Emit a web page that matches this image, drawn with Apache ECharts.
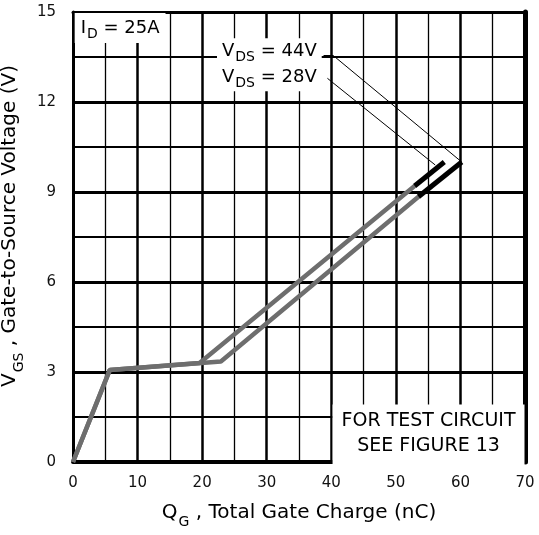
<!DOCTYPE html>
<html><head><meta charset="utf-8">
<script src="https://cdn.jsdelivr.net/npm/echarts@6/dist/echarts.min.js"></script>
<style>html,body{margin:0;padding:0;background:#fff}#c{width:539px;height:535px}</style>
</head><body><div id="c"></div>
<script>
// ---- data ----
const xTicks = [0, 10, 20, 30, 40, 50, 60, 70];
const yTicks = [0, 3, 6, 9, 12, 15];
// Gate charge curves (grey lower section, black upper section as printed)
const curveVds28Lower = [[0, 0], [5.7, 3.07], [19.6, 3.3], [52.9, 9.2]];
const curveVds28Upper = [[52.9, 9.2], [57.5, 10.0]];
const curveVds44Lower = [[0, 0], [5.7, 3.07], [22.9, 3.35], [53.5, 8.84]];
const curveVds44Upper = [[53.5, 8.84], [60.2, 10.0]];
const leaderVds44 = [[38.8, 13.55], [40.3, 13.55], [60.2, 10.0]];
const leaderVds28 = [[39.4, 12.79], [56.1, 9.9]];
const annotationAnchors = [[0.26, 14.47], [22.3, 13.24], [55.06, 0.92]];
const annotationTexts = [
  '{m|I}{s|D}{m| = 25A}',
  '{m|V}{s|DS}{m| = 44V}\n{m|V}{s|DS}{m| = 28V}',
  '{b|FOR TEST CIRCUIT}\n{b|SEE FIGURE 13}'
];
const xTitle = '{m|Q}{s|G}{m| , Total Gate Charge (nC)}';
const yTitle = '{m|V}{s|GS}{m| , Gate-to-Source Voltage (V)}';

// ---- chart ----
const F = 'DejaVu Sans';
const INK = '#000';
const GREY = '#6e6e6e';
const chart = echarts.init(document.getElementById('c'), null, {renderer: 'canvas'});
const nameRich = {
  m: {fontFamily: F, fontSize: 20, color: INK},
  s: {fontFamily: F, fontSize: 14, color: INK, padding: [19, 0, 0, 1]}
};
const annRich = {
  m: {fontFamily: F, fontSize: 18, lineHeight: 26, color: INK},
  s: {fontFamily: F, fontSize: 14, lineHeight: 26, color: INK, padding: [13, 0, 0, 1]},
  b: {fontFamily: F, fontSize: 19, lineHeight: 25, color: INK}
};
const xMin = xTicks[0], xMax = xTicks[xTicks.length - 1];
const yMin = yTicks[0], yMax = yTicks[yTicks.length - 1];

function curve(data, color, width) {
  return {type: 'line', data: data, symbol: 'none', showSymbol: false, silent: true,
    lineStyle: {color: color, width: width, cap: 'butt'}, itemStyle: {color: color}, z: 5};
}

const option = {
  animation: false,
  backgroundColor: '#fff',
  grid: {left: 73, right: 14, top: 12, bottom: 73, containLabel: false, outerBoundsMode: 'none'},
  xAxis: [{
    type: 'value', min: xMin, max: xMax, interval: xTicks[1] - xTicks[0],
    axisLine: {show: true, onZero: false, lineStyle: {color: '#000', width: 4}},
    axisTick: {show: false},
    axisLabel: {fontFamily: F, fontSize: 15, color: '#111', margin: 14},
    splitLine: {show: true, lineStyle: {color: '#000', width: 2.5}},
    minorTick: {show: false, splitNumber: 2},
    minorSplitLine: {show: true, lineStyle: {color: '#000', width: 1.3}},
    name: xTitle, nameLocation: 'middle', nameGap: 34,
    nameTextStyle: {rich: nameRich}
  }, {
    type: 'value', position: 'top', min: xMin, max: xMax,
    axisLine: {show: true, onZero: false, lineStyle: {color: '#000', width: 3}},
    axisTick: {show: false}, axisLabel: {show: false}, splitLine: {show: false}
  }],
  yAxis: [{
    type: 'value', min: yMin, max: yMax, interval: yTicks[1] - yTicks[0],
    axisLine: {show: true, onZero: false, lineStyle: {color: '#000', width: 3}},
    axisTick: {show: false},
    axisLabel: {fontFamily: F, fontSize: 15, color: '#111', margin: 17},
    splitLine: {show: true, lineStyle: {color: '#000', width: 3}},
    minorTick: {show: false, splitNumber: 2},
    minorSplitLine: {show: true, lineStyle: {color: '#000', width: 1.8}},
    name: yTitle, nameLocation: 'middle', nameGap: 34,
    nameTextStyle: {rich: nameRich, padding: [0, 0, 0, 22]}
  }, {
    type: 'value', position: 'right', min: yMin, max: yMax,
    axisLine: {show: true, onZero: false, lineStyle: {color: '#000', width: 5}},
    axisTick: {show: false}, axisLabel: {show: false}, splitLine: {show: false}
  }],
  series: [
    curve(curveVds28Lower, GREY, 4.5),
    curve(curveVds44Lower, GREY, 4.5),
    curve(curveVds28Upper, '#000', 5),
    curve(curveVds44Upper, '#000', 5),
    {type: 'line', data: leaderVds44, symbol: 'none', silent: true,
     lineStyle: {color: '#000', width: 1}, itemStyle: {color: '#000'}, z: 4},
    {type: 'line', data: leaderVds28, symbol: 'none', silent: true,
     lineStyle: {color: '#000', width: 1}, itemStyle: {color: '#000'}, z: 4},
    {type: 'scatter', symbolSize: 0, silent: true, z: 6,
     itemStyle: {opacity: 1, color: '#000'},
     data: annotationAnchors.map((p, i) => ({value: p, text: annotationTexts[i]})),
     label: {
       show: true, position: 'inside', opacity: 1, color: INK,
       formatter: (p) => p.data.text,
       rich: annRich, backgroundColor: '#fff'
     },
     emphasis: {disabled: true}
    }
  ]
};
const ann = option.series[6].data;
ann[0].label = {align: 'left', padding: [2, 6, 2, 6]};
ann[1].label = {align: 'left', padding: [0, 5, 1, 5]};
ann[2].label = {align: 'center', padding: [4, 9, 6, 9]};
chart.setOption(option);
</script>
</body></html>
